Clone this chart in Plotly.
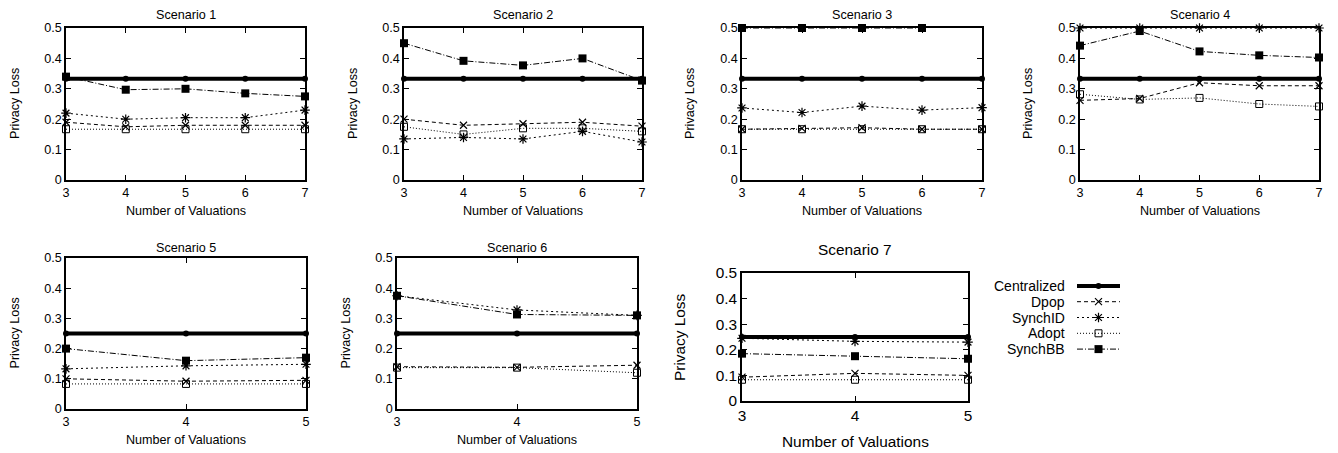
import plotly.graph_objects as go

# ---------------- data ----------------
X_LONG = [3, 4, 5, 6, 7]
X_SHORT = [3, 4, 5]
SERIES = ["Centralized", "Dpop", "SynchID", "Adopt", "SynchBB"]
Y_TICKS = [0, 0.1, 0.2, 0.3, 0.4, 0.5]
Y_TICK_LABELS = ["0", "0.1", "0.2", "0.3", "0.4", "0.5"]
TITLES = ["Scenario 1", "Scenario 2", "Scenario 3", "Scenario 4",
          "Scenario 5", "Scenario 6", "Scenario 7"]

s1_centralized = [0.333, 0.333, 0.333, 0.333, 0.333]
s1_dpop = [0.19, 0.175, 0.18, 0.18, 0.18]
s1_synchid = [0.22, 0.20, 0.205, 0.205, 0.23]
s1_adopt = [0.167, 0.167, 0.167, 0.167, 0.167]
s1_synchbb = [0.34, 0.297, 0.30, 0.285, 0.275]

s2_centralized = [0.333, 0.333, 0.333, 0.333, 0.333]
s2_dpop = [0.20, 0.18, 0.185, 0.19, 0.177]
s2_synchid = [0.135, 0.14, 0.135, 0.16, 0.125]
s2_adopt = [0.175, 0.15, 0.17, 0.17, 0.16]
s2_synchbb = [0.45, 0.392, 0.377, 0.40, 0.327]

s3_centralized = [0.333, 0.333, 0.333, 0.333, 0.333]
s3_dpop = [0.167, 0.17, 0.172, 0.167, 0.167]
s3_synchid = [0.237, 0.222, 0.243, 0.23, 0.238]
s3_adopt = [0.167, 0.167, 0.167, 0.167, 0.167]
s3_synchbb = [0.5, 0.5, 0.5, 0.5, None]

s4_centralized = [0.333, 0.333, 0.333, 0.333, 0.333]
s4_dpop = [0.262, 0.268, 0.32, 0.31, 0.31]
s4_synchid = [0.5, 0.5, 0.5, 0.5, 0.5]
s4_adopt = [0.282, 0.265, 0.27, 0.25, 0.242]
s4_synchbb = [0.442, 0.49, 0.423, 0.41, 0.403]

s5_centralized = [0.25, 0.25, 0.25]
s5_dpop = [0.10, 0.092, 0.095]
s5_synchid = [0.133, 0.143, 0.148]
s5_adopt = [0.083, 0.083, 0.083]
s5_synchbb = [0.20, 0.16, 0.17]

s6_centralized = [0.25, 0.25, 0.25]
s6_dpop = [0.14, 0.138, 0.145]
s6_synchid = [0.375, 0.328, 0.31]
s6_adopt = [0.137, 0.137, 0.12]
s6_synchbb = [0.375, 0.313, 0.31]

s7_centralized = [0.25, 0.25, 0.25]
s7_dpop = [0.093, 0.108, 0.10]
s7_synchid = [0.245, 0.233, 0.23]
s7_adopt = [0.083, 0.083, 0.083]
s7_synchbb = [0.185, 0.175, 0.165]

SCENARIOS = [
    (X_LONG, [s1_centralized, s1_dpop, s1_synchid, s1_adopt, s1_synchbb]),
    (X_LONG, [s2_centralized, s2_dpop, s2_synchid, s2_adopt, s2_synchbb]),
    (X_LONG, [s3_centralized, s3_dpop, s3_synchid, s3_adopt, s3_synchbb]),
    (X_LONG, [s4_centralized, s4_dpop, s4_synchid, s4_adopt, s4_synchbb]),
    (X_SHORT, [s5_centralized, s5_dpop, s5_synchid, s5_adopt, s5_synchbb]),
    (X_SHORT, [s6_centralized, s6_dpop, s6_synchid, s6_adopt, s6_synchbb]),
    (X_SHORT, [s7_centralized, s7_dpop, s7_synchid, s7_adopt, s7_synchbb]),
]

# ---------------- styles / layout ----------------
PAGE_W, PAGE_H = 1338, 453
OFF = 8                     # default page body margin around the figure div
W, H = PAGE_W - OFF, PAGE_H - OFF
FONT = "Liberation Sans, Arial, sans-serif"
STYLE = {
    "Centralized": dict(line=dict(color="black", width=4, dash="solid"),
                        marker=dict(symbol="circle", size=6, color="black")),
    "Dpop": dict(line=dict(color="black", width=1, dash="4px,3px"),
                 marker=dict(symbol="x-thin-open", size=7, color="black",
                             line=dict(color="black", width=1.2))),
    "SynchID": dict(line=dict(color="black", width=1, dash="2px,3px"),
                    marker=dict(symbol="asterisk-open", size=8, color="black",
                                line=dict(color="black", width=1.2))),
    "Adopt": dict(line=dict(color="black", width=1, dash="1px,2px"),
                  marker=dict(symbol="square-open", size=7, color="black",
                              line=dict(color="black", width=1))),
    "SynchBB": dict(line=dict(color="black", width=1, dash="6px,2px,1px,2px"),
                    marker=dict(symbol="square", size=8, color="black")),
}


def px_x(p):
    return (p - OFF) / W


def px_y(p):
    return 1 - (p - OFF) / H


# plot areas in page pixels: (left, right, top, bottom)
BOXES = [
    (66, 305, 28, 180),
    (404, 642, 28, 180),
    (742, 982, 28, 180),
    (1080, 1319, 28, 180),
    (66, 306, 258, 409),
    (397, 637, 258, 409),
    (742, 968, 273, 401),
]
FONT_SIZES = [12.6, 12.6, 12.6, 12.6, 12.6, 12.6, 15.4]
TITLE_Y = [15, 15, 15, 15, 248, 248, 249]
XLABEL_Y = [211, 211, 211, 211, 440, 440, 441]
YLABEL_X = [15, 353, 690, 1028, 14, 345, 679]

fig = go.Figure()
layout = dict(width=W, height=H, margin=dict(l=0, r=0, t=0, b=0, autoexpand=False),
              plot_bgcolor="white", paper_bgcolor="white",
              showlegend=False, font=dict(family=FONT, color="black"))
annotations = []

for i, ((xs, ys), box) in enumerate(zip(SCENARIOS, BOXES)):
    n = i + 1
    sfx = "" if n == 1 else str(n)
    l, r, t, b = box
    fs = FONT_SIZES[i]
    axis_common = dict(showline=True, linecolor="black", linewidth=1.5,
                       mirror="ticks", ticks="inside", ticklen=5, tickwidth=1,
                       tickcolor="black", showgrid=False, zeroline=False,
                       automargin=False,
                       tickfont=dict(size=fs, family=FONT, color="black"))
    layout["xaxis" + sfx] = dict(domain=[px_x(l), px_x(r)], anchor="y" + sfx,
                                 range=[xs[0], xs[-1]], tickvals=xs,
                                 **axis_common)
    layout["yaxis" + sfx] = dict(domain=[px_y(b), px_y(t)], anchor="x" + sfx,
                                 range=[0, 0.5], tickvals=Y_TICKS,
                                 ticktext=Y_TICK_LABELS, **axis_common)
    for name, y in zip(SERIES, ys):
        st = STYLE[name]
        fig.add_trace(go.Scatter(x=xs, y=y, mode="lines+markers", name=name,
                                 line=st["line"], marker=st["marker"],
                                 xaxis="x" + sfx, yaxis="y" + sfx,
                                 cliponaxis=False, connectgaps=False))
    cx = px_x((l + r) / 2)
    annotations.append(dict(text=TITLES[i], x=cx, y=px_y(TITLE_Y[i]),
                            xref="paper", yref="paper", showarrow=False,
                            xanchor="center", yanchor="middle",
                            font=dict(size=fs, family=FONT, color="black")))
    annotations.append(dict(text="Number of Valuations", x=cx, y=px_y(XLABEL_Y[i]),
                            xref="paper", yref="paper", showarrow=False,
                            xanchor="center", yanchor="middle",
                            font=dict(size=fs, family=FONT, color="black")))
    annotations.append(dict(text="Privacy Loss", x=px_x(YLABEL_X[i]),
                            y=px_y((t + b) / 2), textangle=-90,
                            xref="paper", yref="paper", showarrow=False,
                            xanchor="center", yanchor="middle",
                            font=dict(size=fs, family=FONT, color="black")))

# ---------------- legend (custom: label right-aligned, sample at right) ----------------
LEG_LEFT, LEG_RIGHT, LEG_TOP, LEG_BOTTOM = 1077, 1120, 278, 357
layout["xaxis8"] = dict(domain=[px_x(LEG_LEFT), px_x(LEG_RIGHT)], anchor="y8",
                        range=[0, 1], visible=False, fixedrange=True, automargin=False)
layout["yaxis8"] = dict(domain=[px_y(LEG_BOTTOM), px_y(LEG_TOP)], anchor="x8",
                        range=[len(SERIES) - 0.5, -0.5], visible=False,
                        fixedrange=True, automargin=False)
for k, name in enumerate(SERIES):
    st = STYLE[name]
    fig.add_trace(go.Scatter(x=[0, 1], y=[k, k], mode="lines", line=st["line"],
                             xaxis="x8", yaxis="y8", hoverinfo="skip",
                             cliponaxis=False))
    fig.add_trace(go.Scatter(x=[0.5], y=[k], mode="markers", marker=st["marker"],
                             xaxis="x8", yaxis="y8", hoverinfo="skip",
                             cliponaxis=False))
    row_px = LEG_TOP + (k + 0.5) * (LEG_BOTTOM - LEG_TOP) / len(SERIES)
    annotations.append(dict(text=name, x=px_x(1067), y=px_y(row_px),
                            xref="paper", yref="paper", showarrow=False,
                            xanchor="right", yanchor="middle",
                            font=dict(size=14, family=FONT, color="black")))

layout["annotations"] = annotations
fig.update_layout(**layout)
fig.write_html("out.html")
